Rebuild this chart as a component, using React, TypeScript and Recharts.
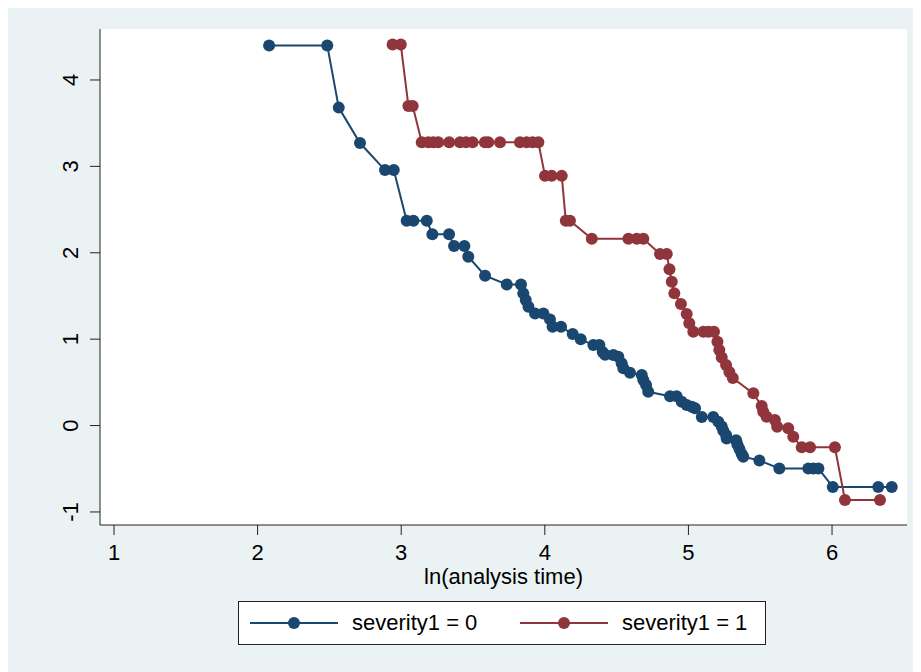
import { CartesianGrid, ComposedChart, Line, XAxis, YAxis } from "recharts";

// ln(-ln S) vs ln(t) points
const severity0: Array<[number, number]> = [
  [2.08, 4.4], [2.485, 4.4], [2.565, 3.68], [2.713, 3.27], [2.887, 2.957], [2.948, 2.957],
  [3.038, 2.37], [3.085, 2.37], [3.178, 2.37], [3.217, 2.213], [3.333, 2.213], [3.368, 2.078],
  [3.44, 2.078], [3.467, 1.954], [3.584, 1.734], [3.735, 1.634], [3.834, 1.634], [3.85, 1.53],
  [3.867, 1.453], [3.886, 1.375], [3.932, 1.298], [3.99, 1.298], [4.036, 1.229], [4.054, 1.144],
  [4.113, 1.144], [4.194, 1.059], [4.25, 0.998], [4.338, 0.932], [4.38, 0.932], [4.403, 0.85],
  [4.42, 0.82], [4.477, 0.816], [4.512, 0.796], [4.535, 0.72], [4.547, 0.662], [4.593, 0.611],
  [4.675, 0.584], [4.686, 0.527], [4.705, 0.469], [4.72, 0.391], [4.872, 0.34], [4.918, 0.34],
  [4.953, 0.275], [4.988, 0.237], [5.023, 0.218], [5.046, 0.199], [5.093, 0.1], [5.173, 0.1],
  [5.208, 0.044], [5.232, -0.01], [5.243, -0.06], [5.262, -0.11], [5.266, -0.15], [5.332, -0.17],
  [5.341, -0.22], [5.355, -0.27], [5.371, -0.33], [5.382, -0.361], [5.494, -0.404], [5.633, -0.496],
  [5.835, -0.496], [5.87, -0.496], [5.905, -0.496], [6.005, -0.71], [6.322, -0.71], [6.416, -0.71],
];

const severity1: Array<[number, number]> = [
  [2.94, 4.41], [2.997, 4.41], [3.05, 3.7], [3.08, 3.7], [3.143, 3.278], [3.188, 3.278],
  [3.223, 3.278], [3.258, 3.278], [3.334, 3.278], [3.409, 3.278], [3.451, 3.278], [3.497, 3.278],
  [3.583, 3.278], [3.606, 3.278], [3.688, 3.278], [3.827, 3.278], [3.874, 3.278], [3.915, 3.278],
  [3.955, 3.278], [4.001, 2.89], [4.048, 2.89], [4.118, 2.89], [4.146, 2.37], [4.175, 2.37],
  [4.327, 2.162], [4.582, 2.162], [4.64, 2.162], [4.686, 2.162], [4.802, 1.985], [4.849, 1.985],
  [4.868, 1.808], [4.884, 1.665], [4.902, 1.53], [4.948, 1.406], [4.988, 1.29], [5.006, 1.183],
  [5.034, 1.086], [5.104, 1.086], [5.139, 1.086], [5.178, 1.086], [5.202, 0.97], [5.215, 0.874],
  [5.232, 0.789], [5.262, 0.7], [5.285, 0.62], [5.309, 0.55], [5.452, 0.373], [5.51, 0.226],
  [5.521, 0.16], [5.544, 0.102], [5.602, 0.064], [5.618, -0.014], [5.695, -0.032], [5.73, -0.13],
  [5.789, -0.252], [5.847, -0.252], [6.02, -0.252], [6.09, -0.862], [6.334, -0.862],
];

const xTicks = [1, 2, 3, 4, 5, 6];
const yTicks = [-1, 0, 1, 2, 3, 4];
const seriesNames = ["severity1 = 0", "severity1 = 1"];

const BLUE = "#1A476F";
const RED = "#90353B";
const BG = "#EAF2F3";
const FONT = "'Liberation Sans', Arial, sans-serif";

const toRows = (pts: Array<[number, number]>) => pts.map(([x, y]) => ({ x, y }));

function RotatedTick({ x, y, payload }: any) {
  return (
    <text
      x={x}
      y={y}
      transform={`rotate(-90 ${x} ${y})`}
      textAnchor="middle"
      fontSize={22}
      fontFamily={FONT}
      fill="#000"
    >
      {payload.value}
    </text>
  );
}

function LegendKey({ color }: { color: string }) {
  return (
    <svg width={88} height={14} style={{ display: "block" }}>
      <line x1={0} y1={7} x2={88} y2={7} stroke={color} strokeWidth={2} />
      <circle cx={44} cy={7} r={6} fill={color} />
    </svg>
  );
}

export default function App() {
  return (
    <div style={{ position: "relative", width: 913, height: 664, background: BG, fontFamily: FONT }}>
      <ComposedChart width={913} height={580} margin={{ top: 21, right: 14, left: 0, bottom: 0 }}>
        <rect x={92} y={21} width={807} height={496} fill="#fff" />
        <CartesianGrid vertical={false} stroke={BG} strokeWidth={1.5} />
        <XAxis
          type="number"
          dataKey="x"
          domain={[0.9025, 6.522]}
          ticks={xTicks}
          allowDataOverflow
          height={63}
          tickSize={10}
          tickMargin={9}
          axisLine={{ stroke: "#222" }}
          tickLine={{ stroke: "#222" }}
          tick={{ fontSize: 22, fill: "#000", fontFamily: FONT }}
        />
        <YAxis
          type="number"
          dataKey="y"
          domain={[-1.151, 4.59]}
          ticks={yTicks}
          allowDataOverflow
          width={92}
          tickSize={10}
          tickMargin={12}
          axisLine={{ stroke: "#222" }}
          tickLine={{ stroke: "#222" }}
          tick={<RotatedTick />}
        />
        <Line
          data={toRows(severity0)}
          dataKey="y"
          name={seriesNames[0]}
          type="linear"
          stroke={BLUE}
          strokeWidth={2}
          dot={{ r: 6, fill: BLUE, stroke: BLUE, strokeWidth: 0 }}
          isAnimationActive={false}
        />
        <Line
          data={toRows(severity1)}
          dataKey="y"
          name={seriesNames[1]}
          type="linear"
          stroke={RED}
          strokeWidth={2}
          dot={{ r: 6, fill: RED, stroke: RED, strokeWidth: 0 }}
          isAnimationActive={false}
        />
      </ComposedChart>

      <div
        style={{
          position: "absolute",
          left: 92,
          top: 558,
          width: 807,
          textAlign: "center",
          fontSize: 22,
          lineHeight: "22px",
          color: "#000",
        }}
      >
        ln(analysis time)
      </div>

      <div
        style={{
          position: "absolute",
          left: 230,
          top: 593,
          width: 526,
          height: 42,
          background: "#fff",
          border: "1px solid #222",
          fontSize: 22,
          color: "#000",
        }}
      >
        {[BLUE, RED].map((color, i) => (
          <div
            key={color}
            style={{
              position: "absolute",
              left: i === 0 ? 11 : 281,
              top: 0,
              height: 42,
              display: "flex",
              alignItems: "center",
              gap: 14,
              whiteSpace: "nowrap",
            }}
          >
            <LegendKey color={color} />
            <span>{seriesNames[i]}</span>
          </div>
        ))}
      </div>
    </div>
  );
}
